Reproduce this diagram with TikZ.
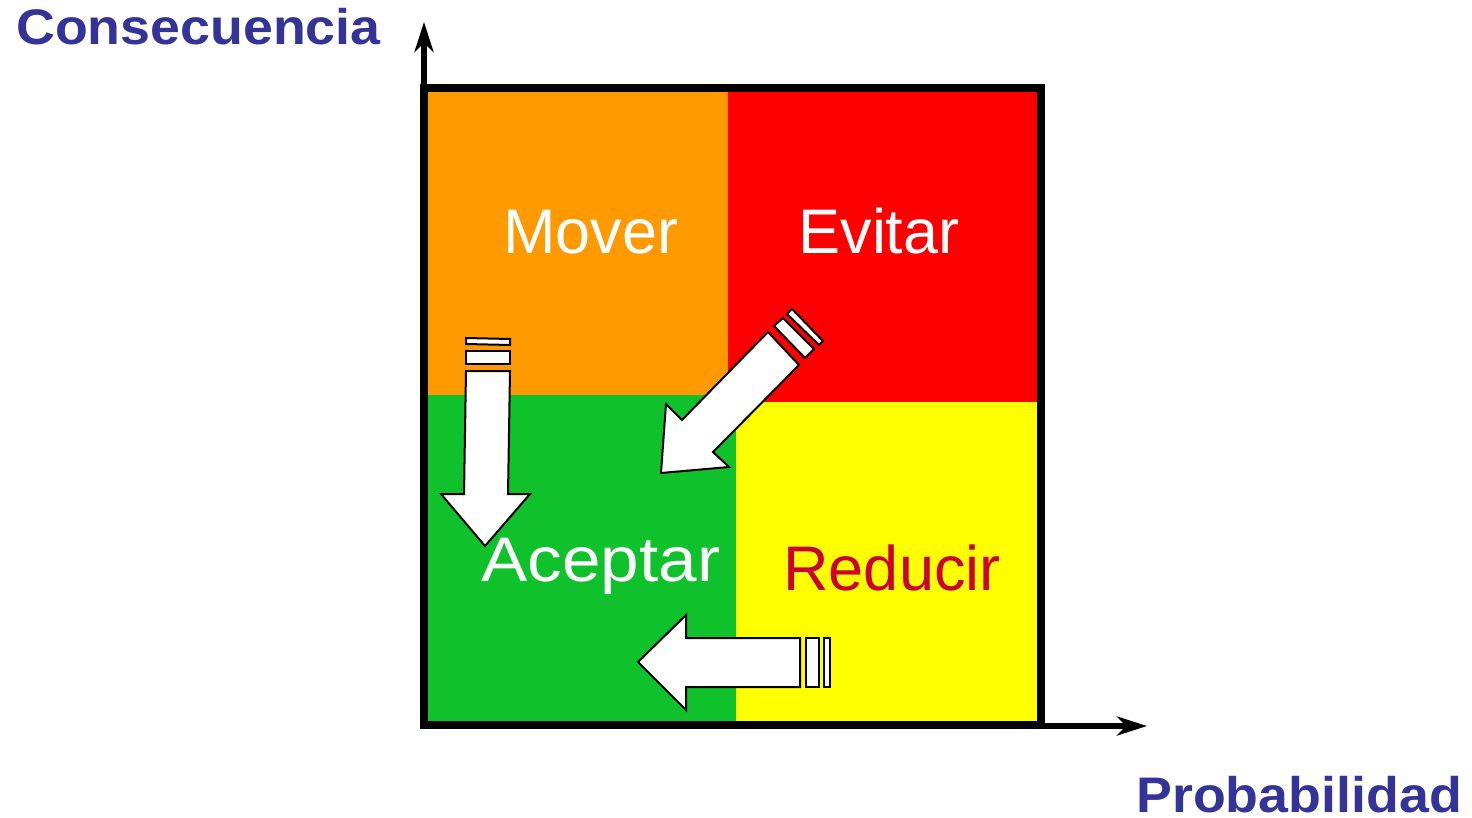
\documentclass[tikz,border=0pt]{standalone}
\usepackage{fontspec}
\setmainfont{Liberation Sans}
\usetikzlibrary{arrows.meta}
\definecolor{qorange}{HTML}{FF9900}
\definecolor{qred}{HTML}{FF0000}
\definecolor{qgreen}{HTML}{0FC22B}
\definecolor{qyellow}{HTML}{FFFF00}
\definecolor{qcrimson}{HTML}{CC0033}
\definecolor{qblue}{HTML}{333399}
\begin{document}
\begin{tikzpicture}[x=1pt,y=-1pt,
  quadlabel/.style={anchor=base,inner sep=0pt,font=\fontsize{63}{70}\selectfont},
  axislabel/.style={anchor=base west,inner sep=0pt,text=qblue,xscale=1.075,font=\fontsize{50}{56}\selectfont\bfseries},
  axisline/.style={line width=6pt,-{Stealth[length=30pt,width=19pt,inset=9pt]}},
  blockarrow/.style={draw=black,fill=white,line width=2pt,line join=miter}]
\useasboundingbox (0,0) rectangle (1472,818);
% quadrants
\fill[qorange] (424,88) rectangle (728,395);
\fill[qred] (728,88) rectangle (1041,402);
\fill[qgreen] (424,395) rectangle (736,725);
\fill[qyellow] (736,402) rectangle (1041,725);
% frame
\draw[line width=8pt] (424,88) rectangle (1041,725);
% axes
\coordinate (yorig) at (424,92);
\coordinate (ytip) at (424,22);
\coordinate (xorig) at (1037,726);
\coordinate (xtip) at (1147,726);
\draw[axisline] (yorig) -- (ytip);
\draw[axisline] (xorig) -- (xtip);
% labels
\node[quadlabel,text=white] (mover) at (591,254) {Mover};
\node[quadlabel,text=white] (evitar) at (879,254) {Evitar};
\node[quadlabel,text=white,xscale=1.1] (aceptar) at (601,581) {Aceptar};
\node[quadlabel,text=qcrimson] (reducir) at (892,590) {Reducir};
\node[axislabel] (cons) at (16,45) {Consecuencia};
\node[axislabel,anchor=base east] (prob) at (1462,812) {Probabilidad};
% down arrow (Mover -> Aceptar)
\draw[blockarrow] (466,338) -- (510,339) -- (510,345) -- (466,344) -- cycle;
\draw[blockarrow] (466,351) rectangle (510,364);
\draw[blockarrow] (466,371) -- (510,371) -- (508,494) -- (530,494) -- (485,546) -- (441,494) -- (464,494) -- cycle;
% diagonal arrow (Evitar -> Aceptar)
\draw[blockarrow] (787,314) -- (792,309) -- (823,341) -- (819,345) -- cycle;
\draw[blockarrow] (774,326) -- (783,318) -- (814,349) -- (805,358) -- cycle;
\draw[blockarrow] (768,332) -- (799,365) -- (713,452) -- (729,467) -- (661,473) -- (666,404) -- (682,420) -- cycle;
% left arrow (Reducir -> Aceptar)
\draw[blockarrow] (824,638) rectangle (830,687);
\draw[blockarrow] (806,638) rectangle (819,687);
\draw[blockarrow] (800,638) -- (800,687) -- (686,687) -- (686,710) -- (638,662) -- (686,615) -- (686,638) -- cycle;
\end{tikzpicture}
\end{document}
